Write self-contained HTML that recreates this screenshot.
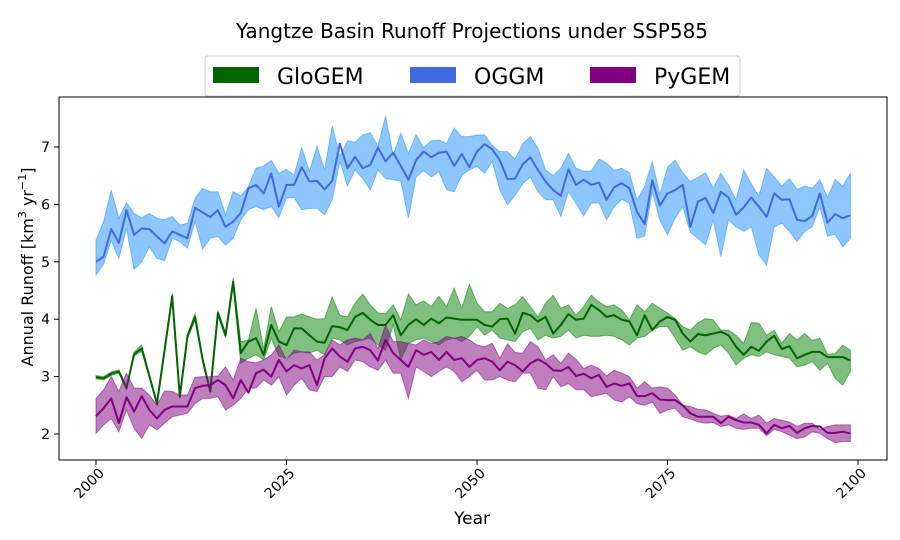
<!DOCTYPE html>
<html><head><meta charset="utf-8"><style>
body{margin:0;background:#fff;}
svg{display:block;font-family:"DejaVu Sans","Liberation Sans",sans-serif;}
</style></head><body>
<svg id="chart" width="900" height="540" viewBox="0 0 900 540" xmlns="http://www.w3.org/2000/svg">
<rect x="0" y="0" width="900" height="540" fill="#fff"/>
<text x="472" y="38" font-size="20" text-anchor="middle" fill="#000">Yangtze Basin Runoff Projections under SSP585</text>
<g id="plot"></g>
<rect x="59" y="97" width="828" height="363" fill="none" stroke="#000" stroke-width="1"/>
<g id="xticks"></g>
<g id="yticks"></g>
<text x="472" y="524" font-size="17" text-anchor="middle">Year</text>
<text transform="translate(33,267) rotate(-90)" font-size="16" text-anchor="middle">Annual Runoff [km<tspan font-size="11" dy="-7">3</tspan><tspan dy="7"> yr</tspan><tspan font-size="11" dy="-7">−1</tspan><tspan dy="7">]</tspan></text>
<g>
<rect x="205" y="56" width="535" height="40" rx="3" fill="#fff" stroke="#ccc"/>
<g><rect x="213" y="67" width="46" height="16" fill="#006400"/><text x="277" y="84" font-size="22">GloGEM</text></g>
<g><rect x="410" y="67" width="46" height="16" fill="#4169e1"/><text x="474" y="84" font-size="22">OGGM</text></g>
<g><rect x="590" y="67" width="46" height="16" fill="#800080"/><text x="654" y="84" font-size="22">PyGEM</text></g>
</g>
</svg>
<script>
const startYear = 2000;
const xTicks = [2000, 2025, 2050, 2075, 2100];
const yTicks = [2, 3, 4, 5, 6, 7];
const gloMean = [2.99,2.97,3.05,3.09,2.80,3.39,3.49,3.01,2.53,3.46,4.40,2.65,3.70,4.04,3.29,2.74,4.11,3.72,4.65,3.41,3.61,3.67,3.38,3.90,3.61,3.55,3.84,3.84,3.72,3.61,3.59,3.88,3.86,3.81,4.04,4.11,3.99,3.90,3.90,4.07,3.72,3.90,4.00,3.90,4.01,3.93,4.03,4.01,3.99,3.99,
3.99,3.90,3.87,4.00,4.01,3.75,4.11,4.07,3.96,4.04,3.75,3.90,4.09,3.99,4.01,4.25,4.16,4.04,4.07,3.99,3.96,3.72,4.07,3.81,3.96,4.04,3.99,3.75,3.61,3.74,3.72,3.75,3.78,3.72,3.52,3.38,3.52,3.45,3.61,3.71,3.48,3.53,3.32,3.38,3.43,3.43,3.34,3.34,3.34,3.28];
const gloUpper = [3.02,3.00,3.08,3.12,2.83,3.43,3.55,3.04,2.56,3.50,4.45,2.68,3.74,4.10,3.33,2.77,4.15,3.77,4.72,3.61,3.64,4.19,3.49,4.22,3.78,4.04,4.04,4.09,4.04,4.00,4.01,4.39,4.07,4.04,4.28,4.44,4.25,4.11,4.10,4.25,3.99,4.44,4.25,4.32,4.22,4.40,4.22,4.54,4.19,4.61,
4.28,4.13,4.13,4.28,4.19,4.25,4.39,4.22,4.04,4.28,4.42,4.19,4.25,4.07,4.22,4.42,4.30,4.22,4.25,4.16,3.99,4.25,4.13,4.28,4.19,4.11,4.01,3.87,3.81,3.94,4.01,3.99,3.81,3.81,3.72,3.58,3.94,3.93,3.72,3.81,3.58,3.75,3.64,3.75,3.63,3.67,3.39,3.40,3.55,3.46];
const gloLower = [2.96,2.94,3.02,3.06,2.77,3.36,3.44,2.98,2.50,3.42,4.35,2.62,3.66,3.98,3.25,2.71,4.07,3.67,4.58,3.23,3.32,3.38,3.29,3.67,3.36,3.32,3.41,3.43,3.41,3.46,3.38,3.67,3.64,3.55,3.61,3.64,3.67,3.55,3.46,3.90,3.29,3.58,3.64,3.67,3.61,3.55,3.64,3.67,3.61,3.70,
3.87,3.72,3.81,3.67,3.64,3.61,3.78,3.84,3.64,3.72,3.67,3.70,3.81,3.67,3.72,3.70,3.70,3.72,3.70,3.64,3.55,3.67,3.70,3.81,3.87,3.87,3.67,3.46,3.52,3.43,3.38,3.49,3.55,3.41,3.20,3.32,3.38,3.35,3.43,3.38,3.35,3.32,3.17,3.20,3.26,3.11,3.23,2.97,2.85,3.09];
const oggmMean = [5.00,5.09,5.57,5.33,5.90,5.47,5.58,5.57,5.44,5.32,5.53,5.47,5.41,5.94,5.86,5.78,5.90,5.61,5.70,5.85,6.28,6.34,6.19,6.54,5.96,6.34,6.34,6.65,6.40,6.41,6.26,6.41,7.06,6.63,6.83,6.63,6.69,6.99,6.75,6.90,6.67,6.43,6.77,6.92,6.82,6.90,6.92,6.67,6.88,6.65,
6.92,7.05,6.96,6.77,6.44,6.45,6.70,6.82,6.60,6.40,6.25,6.15,6.61,6.34,6.43,6.34,6.38,6.08,6.30,6.37,6.28,5.87,5.66,6.42,5.98,6.19,6.25,6.34,5.61,6.05,6.11,5.85,6.22,6.12,5.82,5.95,6.12,5.96,5.78,6.19,6.08,6.09,5.73,5.71,5.80,6.19,5.68,5.83,5.76,5.81];
const oggmUpper = [5.38,5.70,6.25,5.76,6.03,5.84,5.77,5.84,5.76,5.73,5.79,5.64,5.67,6.11,6.28,6.22,6.22,5.82,6.22,6.15,6.31,6.63,6.67,6.77,6.54,6.61,6.51,6.99,6.57,7.01,6.60,7.37,6.83,7.11,7.08,7.21,7.25,7.01,7.54,6.86,7.24,6.89,7.21,6.99,7.11,7.12,7.06,7.33,7.18,7.18,
7.21,7.21,7.03,6.92,6.92,6.79,7.06,7.18,6.98,6.60,6.50,6.63,6.89,6.63,6.58,6.58,6.79,6.72,6.59,6.63,6.55,6.08,6.31,6.74,6.17,6.65,6.77,6.55,6.40,6.47,6.55,6.28,6.54,6.34,6.08,6.60,6.36,6.14,6.63,6.48,6.32,6.45,6.26,6.32,6.28,6.43,6.12,6.43,6.32,6.54];
const oggmLower = [4.77,4.96,5.37,5.06,5.58,4.87,5.00,5.26,5.06,5.02,5.41,5.35,5.24,5.70,5.22,5.41,5.44,5.29,5.41,5.73,5.91,5.96,5.91,5.96,5.77,6.11,6.12,5.91,5.93,5.93,5.82,6.08,6.75,6.32,6.60,6.45,6.25,6.60,6.45,6.43,6.40,5.76,6.48,6.59,6.48,6.57,6.26,6.22,6.51,6.60,
6.66,6.54,6.75,6.25,5.99,6.16,6.36,6.48,6.22,6.08,6.08,5.79,6.22,6.02,5.80,6.02,6.03,5.73,5.96,6.09,6.02,5.41,5.45,6.22,5.73,5.47,5.76,5.96,5.51,5.41,5.29,5.73,5.09,5.73,5.61,5.53,5.61,5.12,4.94,5.61,5.67,5.53,5.35,5.53,5.61,5.96,5.45,5.48,5.26,5.41];
const pyMean = [2.31,2.45,2.62,2.19,2.64,2.39,2.66,2.42,2.27,2.42,2.48,2.48,2.48,2.80,2.84,2.85,2.94,2.85,2.62,2.94,2.72,3.06,3.12,3.00,3.29,3.09,3.20,3.14,3.20,2.85,3.32,3.49,3.35,3.26,3.49,3.52,3.46,3.28,3.64,3.41,3.29,3.17,3.46,3.38,3.43,3.29,3.43,3.29,3.32,3.17,
3.29,3.32,3.26,3.11,3.26,3.20,3.09,3.23,3.30,3.23,3.11,3.10,3.17,3.01,3.05,2.97,3.03,2.82,2.88,2.84,2.88,2.66,2.66,2.71,2.60,2.59,2.59,2.50,2.36,2.30,2.30,2.30,2.19,2.30,2.24,2.20,2.20,2.16,2.01,2.16,2.10,2.14,2.02,2.10,2.14,2.13,2.02,2.02,2.04,2.01];
const pyUpper = [2.62,2.77,3.00,2.74,3.06,2.80,2.80,2.68,2.50,2.75,2.74,2.68,2.68,2.99,3.00,3.00,3.01,3.17,2.94,3.32,3.26,3.24,3.29,3.38,3.55,3.29,3.46,3.43,3.43,3.29,3.38,3.64,3.55,3.64,3.67,3.64,3.75,3.49,3.90,3.61,3.61,3.58,3.55,3.64,3.58,3.61,3.70,3.67,3.70,3.64,
3.55,3.52,3.58,3.32,3.57,3.42,3.41,3.61,3.52,3.29,3.38,3.23,3.41,3.30,3.14,3.20,3.14,3.01,3.11,3.06,3.00,2.80,2.91,2.80,2.82,2.80,2.68,2.50,2.48,2.43,2.42,2.36,2.31,2.33,2.27,2.35,2.27,2.33,2.19,2.27,2.24,2.21,2.13,2.19,2.19,2.08,2.13,2.16,2.16,2.16];
const pyLower = [2.01,2.16,2.27,2.04,2.42,2.10,1.92,2.16,2.07,2.19,2.30,2.33,2.36,2.53,2.62,2.62,2.65,2.42,2.50,2.62,2.80,2.80,2.94,2.85,3.00,2.68,2.85,2.97,2.77,2.74,3.00,3.00,3.17,3.09,3.29,3.26,3.17,3.11,3.29,3.06,3.06,2.62,3.17,3.09,3.00,3.09,3.17,3.09,2.91,3.00,
3.11,2.94,2.94,3.00,2.94,2.91,3.06,3.06,2.80,2.77,3.00,2.82,2.88,2.77,2.77,2.65,2.68,2.71,2.59,2.56,2.65,2.53,2.50,2.56,2.36,2.42,2.45,2.30,2.26,2.21,2.19,2.20,2.13,2.16,2.10,2.08,2.10,2.10,1.97,2.08,2.04,1.98,1.92,1.95,2.04,2.01,1.92,1.85,1.87,1.87];

const NS = "http://www.w3.org/2000/svg";
const X0 = 96, PXY = (858 - 96) / 100;
const Y7 = 147, PXV = (434 - 147) / 5;
function xScale(year){ return X0 + (year - 2000) * PXY; }
function yScale(v){ return Y7 + (7 - v) * PXV; }
function mk(tag, attrs, parent){ const e = document.createElementNS(NS, tag); for (const k in attrs) e.setAttribute(k, attrs[k]); parent.appendChild(e); return e; }

const plot = document.getElementById('plot');
function drawSeries(name, mean, up, lo, fill, line){
  let d = '';
  up.forEach((v,i)=>{ d += (i? 'L':'M') + xScale(startYear+i).toFixed(2) + ' ' + yScale(v).toFixed(2); });
  for (let i = lo.length-1; i >= 0; i--) d += 'L' + xScale(startYear+i).toFixed(2) + ' ' + yScale(lo[i]).toFixed(2);
  d += 'Z';
  const band = mk('path', {d: d, fill: fill, 'fill-opacity': 0.5, stroke: fill, 'stroke-opacity': 0.5, 'stroke-width': 1}, plot);
  
  
  const pts = mean.map((v,i)=> xScale(startYear+i).toFixed(2) + ',' + yScale(v).toFixed(2)).join(' ');
  const pl = mk('polyline', {points: pts, fill: 'none', stroke: line, 'stroke-width': 2, 'stroke-linejoin': 'round'}, plot);
  
  
}
drawSeries('glogem', gloMean, gloUpper, gloLower, '#008000', '#006400');
drawSeries('oggm', oggmMean, oggmUpper, oggmLower, '#1e90ff', '#4169e1');
drawSeries('pygem', pyMean, pyUpper, pyLower, '#800080', '#800080');

const xg = document.getElementById('xticks');
xTicks.forEach(t=>{
  const x = xScale(t);
  mk('line', {x1: x, x2: x, y1: 460, y2: 465, stroke: '#000'}, xg);
  const tx = mk('text', {x: 0, y: 0, 'font-size': 14, 'text-anchor': 'end', transform: 'translate(' + (x+9) + ',474) rotate(-45)'}, xg);
  tx.textContent = t;
  
  
});
const yg = document.getElementById('yticks');
yTicks.forEach(t=>{
  const y = yScale(t);
  mk('line', {x1: 54, x2: 59, y1: y, y2: y, stroke: '#000'}, yg);
  const tx = mk('text', {x: 50, y: y + 5, 'font-size': 14, 'text-anchor': 'end'}, yg);
  tx.textContent = t;
  
  
});
</script>
</body></html>
